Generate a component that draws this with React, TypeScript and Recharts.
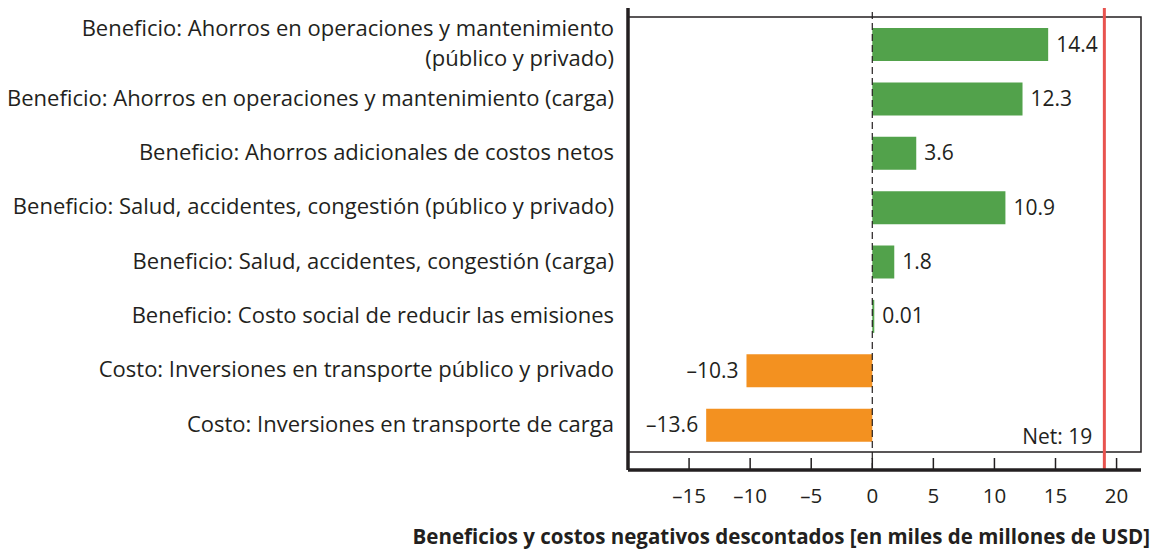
import React from 'react';
import {
    BarChart, Bar, XAxis, YAxis, ReferenceLine, ReferenceArea, LabelList, Cell
} from 'recharts';

const categories = [
    'Beneficio: Ahorros en operaciones y mantenimiento|(público y privado)',
    'Beneficio: Ahorros en operaciones y mantenimiento (carga)',
    'Beneficio: Ahorros adicionales de costos netos',
    'Beneficio: Salud, accidentes, congestión (público y privado)',
    'Beneficio: Salud, accidentes, congestión (carga)',
    'Beneficio: Costo social de reducir las emisiones',
    'Costo: Inversiones en transporte público y privado',
    'Costo: Inversiones en transporte de carga',
];
const values = [14.4, 12.3, 3.6, 10.9, 1.8, 0.01, -10.3, -13.6];
const xTicks = [-15, -10, -5, 0, 5, 10, 15, 20];
const netValue = 19;

const data = categories.map((name, i) => ({ name, value: values[i] }));

const FONT = '"Open Sans", sans-serif';
const INK = '#231f20';
const GREEN = '#52a24b';
const ORANGE = '#f39120';

const fmt = (v: number) => (v < 0 ? '\u2013' + Math.abs(v) : String(v));

const YTick = (props: any) => {
    const { x, y, payload } = props;
    const lines = String(payload.value).split('|');
    const lh = 30;
    const start = -((lines.length - 1) * lh) / 2;
    return (
        <g>
            {lines.map((ln, i) => (
                <text key={i} x={x - 6} y={y + start + i * lh} dy={7} textAnchor="end"
                    fontFamily={FONT} fontSize={22} fill={INK}>{ln}</text>
            ))}
        </g>
    );
};

const XTick = (props: any) => {
    const { x, y, payload } = props;
    return (
        <g>
            <line x1={x} x2={x} y1={y - 12} y2={y} stroke={INK} strokeWidth={1.5} />
            <text x={x} y={y + 33} textAnchor="middle" fontFamily={FONT} fontSize={20.5} fill={INK}>
                {fmt(payload.value)}
            </text>
        </g>
    );
};

const ValueLabel = (props: any) => {
    const { x, y, width, height, value } = props;
    const left = Math.min(x, x + width);
    const right = Math.max(x, x + width);
    const neg = value < 0;
    return (
        <text x={neg ? left - 8 : right + 8} y={y + height / 2} dy={7}
            textAnchor={neg ? 'end' : 'start'} fontFamily={FONT} fontSize={21} fill={INK}>
            {fmt(value)}
        </text>
    );
};

const NetLabel = (props: any) => {
    const { viewBox } = props;
    return (
        <text x={viewBox.x - 12} y={viewBox.y + viewBox.height - 26} textAnchor="end"
            fontFamily={FONT} fontSize={21} fill={INK}>Net: {netValue}</text>
    );
};

const AxisTitle = () => (
    <text x={1150} y={544} textAnchor="end" fontFamily={FONT} fontSize={20.5} fontWeight="bold" fill={INK}>
        Beneficios y costos negativos descontados [en miles de millones de USD]
    </text>
);

export default function App() {
    return (
        <div style={{ position: 'absolute', left: 0, top: 0, background: '#fff' }}>
            <BarChart width={1158} height={550} data={data} layout="vertical"
                margin={{ top: 8, right: 17, bottom: 0, left: 0 }}>
                <ReferenceArea x1={-20} x2={22} fill="none" stroke={INK} strokeWidth={1.5} />
                <XAxis type="number" domain={[-20, 22]} ticks={xTicks} tickSize={0} tickMargin={0}
                    axisLine={{ stroke: INK, strokeWidth: 3.5 }} tickLine={false} tick={<XTick />}
                    height={80} interval={0} label={<AxisTitle />} allowDataOverflow />
                <YAxis type="category" dataKey="name" width={628} tickLine={false}
                    axisLine={{ stroke: INK, strokeWidth: 3.5 }} tick={<YTick />} interval={0}
                    padding={{ top: 9, bottom: 18 }} />
                <ReferenceLine x={0} stroke={INK} strokeWidth={1.2} strokeDasharray="7 4" />
                <Bar dataKey="value" barSize={33} minPointSize={2} isAnimationActive={false}>
                    {data.map((d, i) => (
                        <Cell key={i} fill={d.value < 0 ? ORANGE : GREEN} />
                    ))}
                    <LabelList dataKey="value" content={<ValueLabel />} />
                </Bar>
                <ReferenceLine x={netValue} stroke="#e8534f" strokeWidth={3} label={<NetLabel />} />
            </BarChart>
        </div>
    );
}
